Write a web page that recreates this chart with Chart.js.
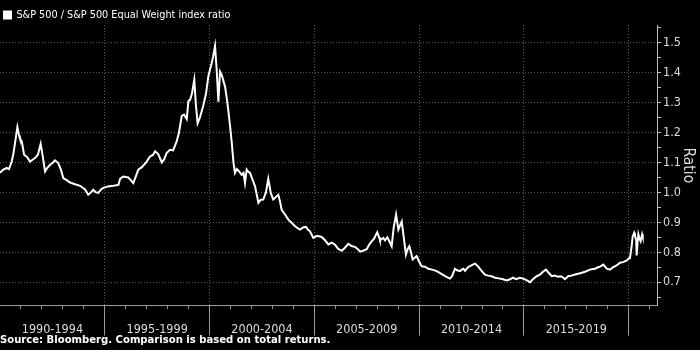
<!DOCTYPE html>
<html>
<head>
<meta charset="utf-8">
<script src="https://cdn.jsdelivr.net/npm/chart.js@4"></script>
<style>
  html, body { margin: 0; padding: 0; background: #000; }
  #wrap { width: 700px; height: 350px; }
</style>
</head>
<body>
<div id="wrap"><canvas id="mycanvas"></canvas></div>
<script>
// decimal years
var years = [
  1990.00, 1990.14, 1990.32, 1990.43, 1990.56, 1990.64, 1990.72, 1990.83, 1990.91, 1990.95,
  1991.04, 1991.15, 1991.29, 1991.43, 1991.57, 1991.67, 1991.81, 1991.94, 1992.04, 1992.15,
  1992.24, 1992.39, 1992.53, 1992.62, 1992.78, 1992.91, 1993.02, 1993.20, 1993.34, 1993.58,
  1993.82, 1994.06, 1994.21, 1994.34, 1994.45, 1994.58, 1994.69, 1994.82, 1994.93, 1995.15,
  1995.41, 1995.65, 1995.73, 1995.88, 1996.12, 1996.25, 1996.36, 1996.49, 1996.60, 1996.78,
  1997.00, 1997.16, 1997.30, 1997.40, 1997.55, 1997.72, 1997.83, 1997.95, 1998.11, 1998.26,
  1998.43, 1998.54, 1998.67, 1998.78, 1998.91, 1998.99, 1999.07, 1999.16, 1999.27, 1999.35,
  1999.43, 1999.54, 1999.70, 1999.83, 1999.94, 2000.02, 2000.10, 2000.16, 2000.26, 2000.34,
  2000.42, 2000.50, 2000.59, 2000.74, 2000.83, 2000.89, 2000.98, 2001.06, 2001.14, 2001.21,
  2001.30, 2001.41, 2001.53, 2001.62, 2001.69, 2001.77, 2001.83, 2001.93, 2002.09, 2002.17,
  2002.33, 2002.43, 2002.56, 2002.69, 2002.80, 2002.92, 2003.04, 2003.17, 2003.28, 2003.36,
  2003.44, 2003.60, 2003.76, 2003.89, 2004.08, 2004.22, 2004.32, 2004.46, 2004.60, 2004.70,
  2004.79, 2004.95, 2005.13, 2005.35, 2005.51, 2005.67, 2005.83, 2005.99, 2006.13, 2006.31,
  2006.46, 2006.62, 2006.80, 2006.94, 2007.08, 2007.18, 2007.32, 2007.50, 2007.61, 2007.74,
  2007.85, 2008.00, 2008.09, 2008.13, 2008.29, 2008.37, 2008.48, 2008.59, 2008.69, 2008.78,
  2008.90, 2009.01, 2009.09, 2009.17, 2009.23, 2009.37, 2009.45, 2009.53, 2009.61, 2009.69,
  2009.88, 2009.99, 2010.12, 2010.28, 2010.44, 2010.62, 2010.84, 2011.00, 2011.24, 2011.47,
  2011.57, 2011.71, 2011.81, 2011.95, 2012.03, 2012.11, 2012.19, 2012.33, 2012.56, 2012.67,
  2012.82, 2012.99, 2013.14, 2013.29, 2013.46, 2013.62, 2013.86, 2014.00, 2014.18, 2014.34,
  2014.48, 2014.62, 2014.81, 2014.96, 2015.10, 2015.29, 2015.43, 2015.61, 2015.77, 2015.91,
  2016.05, 2016.20, 2016.33, 2016.48, 2016.63, 2016.77, 2016.88, 2016.96, 2017.11, 2017.25,
  2017.44, 2017.68, 2017.92, 2018.15, 2018.39, 2018.54, 2018.63, 2018.79, 2018.95, 2019.11,
  2019.25, 2019.40, 2019.59, 2019.73, 2019.91, 2020.02, 2020.06, 2020.14, 2020.19, 2020.26,
  2020.30, 2020.36, 2020.38, 2020.42, 2020.46, 2020.52, 2020.57, 2020.64, 2020.67
];

// S&P 500 / S&P 500 Equal Weight ratio
var ratio = [
  1.065, 1.075, 1.082, 1.078, 1.103, 1.130, 1.166, 1.218, 1.190, 1.180,
  1.170, 1.126, 1.118, 1.103, 1.110, 1.115, 1.126, 1.162, 1.120, 1.070,
  1.080, 1.092, 1.100, 1.107, 1.098, 1.075, 1.048, 1.040, 1.033, 1.027,
  1.022, 1.010, 0.992, 1.000, 1.009, 1.000, 0.998, 1.010, 1.015, 1.020,
  1.022, 1.025, 1.045, 1.053, 1.050, 1.040, 1.031, 1.055, 1.076, 1.085,
  1.103, 1.120, 1.125, 1.137, 1.128, 1.100, 1.110, 1.131, 1.142, 1.140,
  1.170, 1.200, 1.255, 1.260, 1.245, 1.305, 1.309, 1.330, 1.376, 1.290,
  1.231, 1.250, 1.290, 1.330, 1.387, 1.410, 1.431, 1.450, 1.489, 1.409,
  1.303, 1.403, 1.390, 1.353, 1.310, 1.276, 1.220, 1.165, 1.100, 1.065,
  1.078, 1.070, 1.059, 1.065, 1.031, 1.076, 1.070, 1.065, 1.035, 1.020,
  0.965, 0.975, 0.976, 1.000, 1.045, 0.998, 0.976, 0.985, 0.992, 0.970,
  0.942, 0.926, 0.909, 0.900, 0.887, 0.880, 0.876, 0.883, 0.885, 0.875,
  0.870, 0.848, 0.855, 0.851, 0.840, 0.826, 0.832, 0.825, 0.812, 0.805,
  0.815, 0.828, 0.820, 0.818, 0.810, 0.802, 0.805, 0.810, 0.825, 0.837,
  0.845, 0.867, 0.850, 0.840, 0.848, 0.840, 0.850, 0.835, 0.820, 0.880,
  0.926, 0.876, 0.890, 0.903, 0.870, 0.792, 0.810, 0.820, 0.800, 0.776,
  0.787, 0.770, 0.753, 0.752, 0.745, 0.742, 0.737, 0.730, 0.720, 0.712,
  0.720, 0.745, 0.740, 0.737, 0.742, 0.745, 0.738, 0.750, 0.759, 0.762,
  0.752, 0.737, 0.725, 0.722, 0.720, 0.715, 0.712, 0.710, 0.706, 0.710,
  0.715, 0.710, 0.715, 0.712, 0.708, 0.700, 0.710, 0.720, 0.725, 0.735,
  0.742, 0.730, 0.720, 0.722, 0.718, 0.720, 0.715, 0.710, 0.720, 0.722,
  0.726, 0.730, 0.735, 0.742, 0.745, 0.750, 0.752, 0.759, 0.745, 0.742,
  0.750, 0.755, 0.765, 0.767, 0.773, 0.780, 0.781, 0.820, 0.853, 0.865,
  0.855, 0.840, 0.789, 0.830, 0.860, 0.845, 0.837, 0.860, 0.852
];

var periodStarts = [1990, 1995, 2000, 2005, 2010, 2015];
var periodLabels = ['1990-1994', '1995-1999', '2000-2004', '2005-2009', '2010-2014', '2015-2019'];
var yTickValues = [0.65, 0.7, 0.75, 0.8, 0.85, 0.9, 0.95, 1.0, 1.05, 1.1, 1.15, 1.2, 1.25, 1.3, 1.35, 1.4, 1.45, 1.5, 1.55];
var yLabelValues = [0.7, 0.8, 0.9, 1.0, 1.1, 1.2, 1.3, 1.4, 1.5];

var font = "'DejaVu Sans Condensed', 'DejaVu Sans', sans-serif";

function isLabelled(v) {
  for (var k = 0; k < yLabelValues.length; k++) {
    if (Math.abs(yLabelValues[k] - v) < 1e-6) return true;
  }
  return false;
}
function isDivider(v) {
  return v > 1990 && Math.abs(v / 5 - Math.round(v / 5)) < 1e-6;
}

var points = [];
for (var i in years) {
  points.push({x: years[i], y: ratio[i]});
}

var chartdata = {
  datasets: [
    {
      label: 'S&P 500 / S&P 500 Equal Weight index ratio',
      data: points,
      borderColor: '#ffffff',
      backgroundColor: '#ffffff',
      borderWidth: 2,
      pointRadius: 0,
      tension: 0,
      fill: false
    }
  ]
};

var ctx = document.getElementById('mycanvas');

var LineGraph = new Chart(ctx, {
  type: 'line',
  data: chartdata,
  options: {
    responsive: true,
    maintainAspectRatio: false,
    animation: false,
    layout: { padding: 0 },
    plugins: {
      tooltip: { enabled: false },
      legend: {
        display: true,
        position: 'top',
        align: 'start',
        maxHeight: 25,
        title: { display: true, text: ' ', font: { size: 1 }, padding: { top: 2.5, bottom: 2 } },
        labels: {
          color: '#ffffff',
          boxWidth: 7,
          boxHeight: 7,
          padding: 4,
          font: { family: font, size: 10.8 }
        }
      },
      title: {
        display: true,
        text: 'Source: Bloomberg. Comparison is based on total returns.',
        position: 'bottom',
        align: 'start',
        color: '#ffffff',
        font: { family: font, size: 11.2, weight: 'bold' },
        padding: { top: 0, bottom: 3 }
      }
    },
    scales: {
      x: {
        type: 'linear',
        min: 1990,
        max: 2021.35,
        afterBuildTicks: function(axis) {
          var t = [];
          for (var y = 1991; y <= 2021; y++) t.push({value: y});
          for (var k = 0; k < periodStarts.length; k++) t.push({value: periodStarts[k] + 2.5});
          t.sort(function(a, b) { return a.value - b.value; });
          axis.ticks = t;
        },
        afterFit: function(axis) { axis.height = 28; },
        ticks: {
          autoSkip: false,
          maxRotation: 0,
          minRotation: 0,
          padding: -13,
          color: '#dcdcdc',
          font: { family: font, size: 12.5 },
          callback: function(value) {
            var k = periodStarts.indexOf(value - 2.5);
            return k >= 0 ? periodLabels[k] : '';
          }
        },
        grid: {
          lineWidth: 1,
          color: function(c) { return isDivider(c.tick.value) ? '#5a5a5a' : 'rgba(0,0,0,0)'; },
          tickLength: 30,
          tickWidth: 1,
          tickColor: function(c) {
            var v = c.tick.value;
            return Math.abs(v - Math.round(v)) < 1e-6 ? '#9a9a9a' : 'rgba(0,0,0,0)';
          },
          tickBorderDash: function(c) {
            return isDivider(c.tick.value) ? [] : [3, 100];
          }
        },
        border: { display: true, color: '#9a9a9a', width: 1, dash: [1, 2] }
      },
      y: {
        position: 'right',
        min: 0.622,
        max: 1.559,
        afterBuildTicks: function(axis) {
          axis.ticks = yTickValues.map(function(v) { return {value: v}; });
        },
        afterFit: function(axis) { axis.width = 43; },
        ticks: {
          autoSkip: false,
          padding: 2,
          color: '#dcdcdc',
          font: { family: font, size: 12.5 },
          callback: function(value) {
            return isLabelled(value) ? value.toFixed(1) : '';
          }
        },
        grid: {
          lineWidth: 1,
          color: function(c) { return isLabelled(c.tick.value) ? '#5a5a5a' : 'rgba(0,0,0,0)'; },
          tickLength: 4,
          tickColor: '#bdbdbd'
        },
        border: { display: true, color: '#bdbdbd', width: 1, dash: [1, 2] },
        title: {
          display: true,
          text: 'Ratio',
          color: '#dcdcdc',
          font: { family: font, size: 15.5 },
          padding: { top: 3, bottom: 0 }
        }
      }
    }
  }
});
</script>
</body>
</html>
